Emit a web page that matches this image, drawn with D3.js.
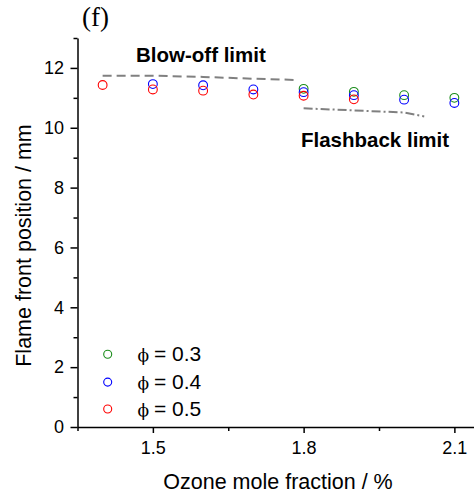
<!DOCTYPE html>
<html><head><meta charset="utf-8">
<script src="https://cdn.jsdelivr.net/npm/d3@7"></script>
<style>body{margin:0;background:#fff}svg{display:block}</style>
</head><body>
<svg id="c" width="474" height="495"></svg>
<script>
const xs = [1.4, 1.5, 1.6, 1.7, 1.8, 1.9, 2.0, 2.1];
const phi03 = [null, null, null, null, 11.30, 11.20, 11.09, 11.00];
const phi04 = [null, 11.46, 11.42, 11.28, 11.19, 11.09, 10.94, 10.83];
const phi05 = [11.43, 11.28, 11.24, 11.11, 11.07, 10.95, null, null];
const blowX = [1.4, 1.5, 1.6, 1.7, 1.78];
const blowY = [11.74, 11.74, 11.70, 11.64, 11.60];
const flashX = [1.8, 1.9, 2.0, 2.04];
const flashY = [10.65, 10.58, 10.51, 10.38];
const xMajor = [1.5, 1.8, 2.1];
const xMinor = [1.35, 1.65, 1.95];
const yMajor = [0, 2, 4, 6, 8, 10, 12];
const yMinor = [1, 3, 5, 7, 9, 11, 13];
const seriesSymbol = "\u03D5";
const seriesNames = ["= 0.3", "= 0.4", "= 0.5"];
const seriesColors = ["#1a8c1a", "#0000ff", "#ff0000"];
const legendY = [2.43, 1.5, 0.6];

const svg = d3.select("#c");
const x = d3.scaleLinear().domain([1.35, 2.15]).range([77.5, 479.5]);
const y = d3.scaleLinear().domain([0, 13]).range([427, 38]);
const font = "Arial, 'Liberation Sans', sans-serif";

// axes
const gx = svg.append("g").attr("transform", "translate(0,427)")
  .call(d3.axisBottom(x).tickValues(xMajor).tickSize(6).tickSizeOuter(0).tickFormat(d3.format(".1f")));
svg.append("g").attr("transform", "translate(0,427)")
  .call(d3.axisBottom(x).tickValues(xMinor).tickSize(4).tickSizeOuter(0).tickFormat(""))
  .select(".domain").remove();
const gy = svg.append("g").attr("transform", "translate(77.5,0)")
  .call(d3.axisLeft(y).tickValues(yMajor).tickSize(7).tickSizeOuter(0));
svg.append("g").attr("transform", "translate(77.5,0)")
  .call(d3.axisLeft(y).tickValues(yMinor).tickSize(4).tickSizeOuter(0).tickFormat(""))
  .select(".domain").remove();
svg.selectAll(".domain, .tick line").attr("stroke", "#000").attr("stroke-width", 1.5);
svg.selectAll(".tick text").attr("font-family", font).attr("font-size", 18).attr("fill", "#000");
gx.selectAll(".tick text").attr("dy", "1.0em");
gy.selectAll(".tick text").attr("dx", "-0.2em");

// limit lines
const line = d3.line().x(d => x(d[0])).y(d => y(d[1]));
svg.append("path").datum(blowX.map((v, i) => [v, blowY[i]]))
  .attr("d", line).attr("fill", "none").attr("stroke", "#808080").attr("stroke-width", 2)
  .attr("stroke-dasharray", "9,5");
svg.append("path").datum(flashX.map((v, i) => [v, flashY[i]]))
  .attr("d", line).attr("fill", "none").attr("stroke", "#808080").attr("stroke-width", 2)
  .attr("stroke-dasharray", "9,3,2,3");

// points
[phi03, phi04, phi05].forEach((s, k) => {
  svg.append("g").selectAll("circle")
    .data(xs.map((v, i) => [v, s[i]]).filter(d => d[1] != null))
    .join("circle")
    .attr("cx", d => x(d[0])).attr("cy", d => y(d[1])).attr("r", 4.4)
    .attr("fill", "none").attr("stroke", seriesColors[k]).attr("stroke-width", 1.1);
});

// legend
seriesNames.forEach((n, k) => {
  const cy = y(legendY[k]);
  svg.append("circle").attr("cx", 107.7).attr("cy", cy).attr("r", 4)
    .attr("fill", "none").attr("stroke", seriesColors[k]).attr("stroke-width", 1.1);
  svg.append("text").attr("x", 137.5).attr("y", cy + 7)
    .attr("font-family", "'DejaVu Serif', serif").attr("font-size", 17).attr("fill", "#000").text(seriesSymbol);
  svg.append("text").attr("x", 154).attr("y", cy + 7)
    .attr("font-family", font).attr("font-size", 21).attr("fill", "#000").text(n);
});

// annotations
svg.append("text").attr("x", 136).attr("y", 62).attr("font-family", font)
  .attr("font-size", 20.5).attr("font-weight", "bold").text("Blow-off limit");
svg.append("text").attr("x", 301).attr("y", 147).attr("font-family", font)
  .attr("font-size", 20.5).attr("font-weight", "bold").text("Flashback limit");
svg.append("text").attr("x", 82).attr("y", 26).attr("font-family", "'Liberation Serif', 'Times New Roman', serif")
  .attr("font-size", 27).text("(f)");

// axis titles
svg.append("text").attr("x", 278).attr("y", 489).attr("text-anchor", "middle")
  .attr("font-family", font).attr("font-size", 21.5).text("Ozone mole fraction / %");
svg.append("text").attr("transform", "translate(30.5,245.5) rotate(-90)").attr("text-anchor", "middle")
  .attr("font-family", font).attr("font-size", 21.5).text("Flame front position / mm");
</script>
</body></html>
